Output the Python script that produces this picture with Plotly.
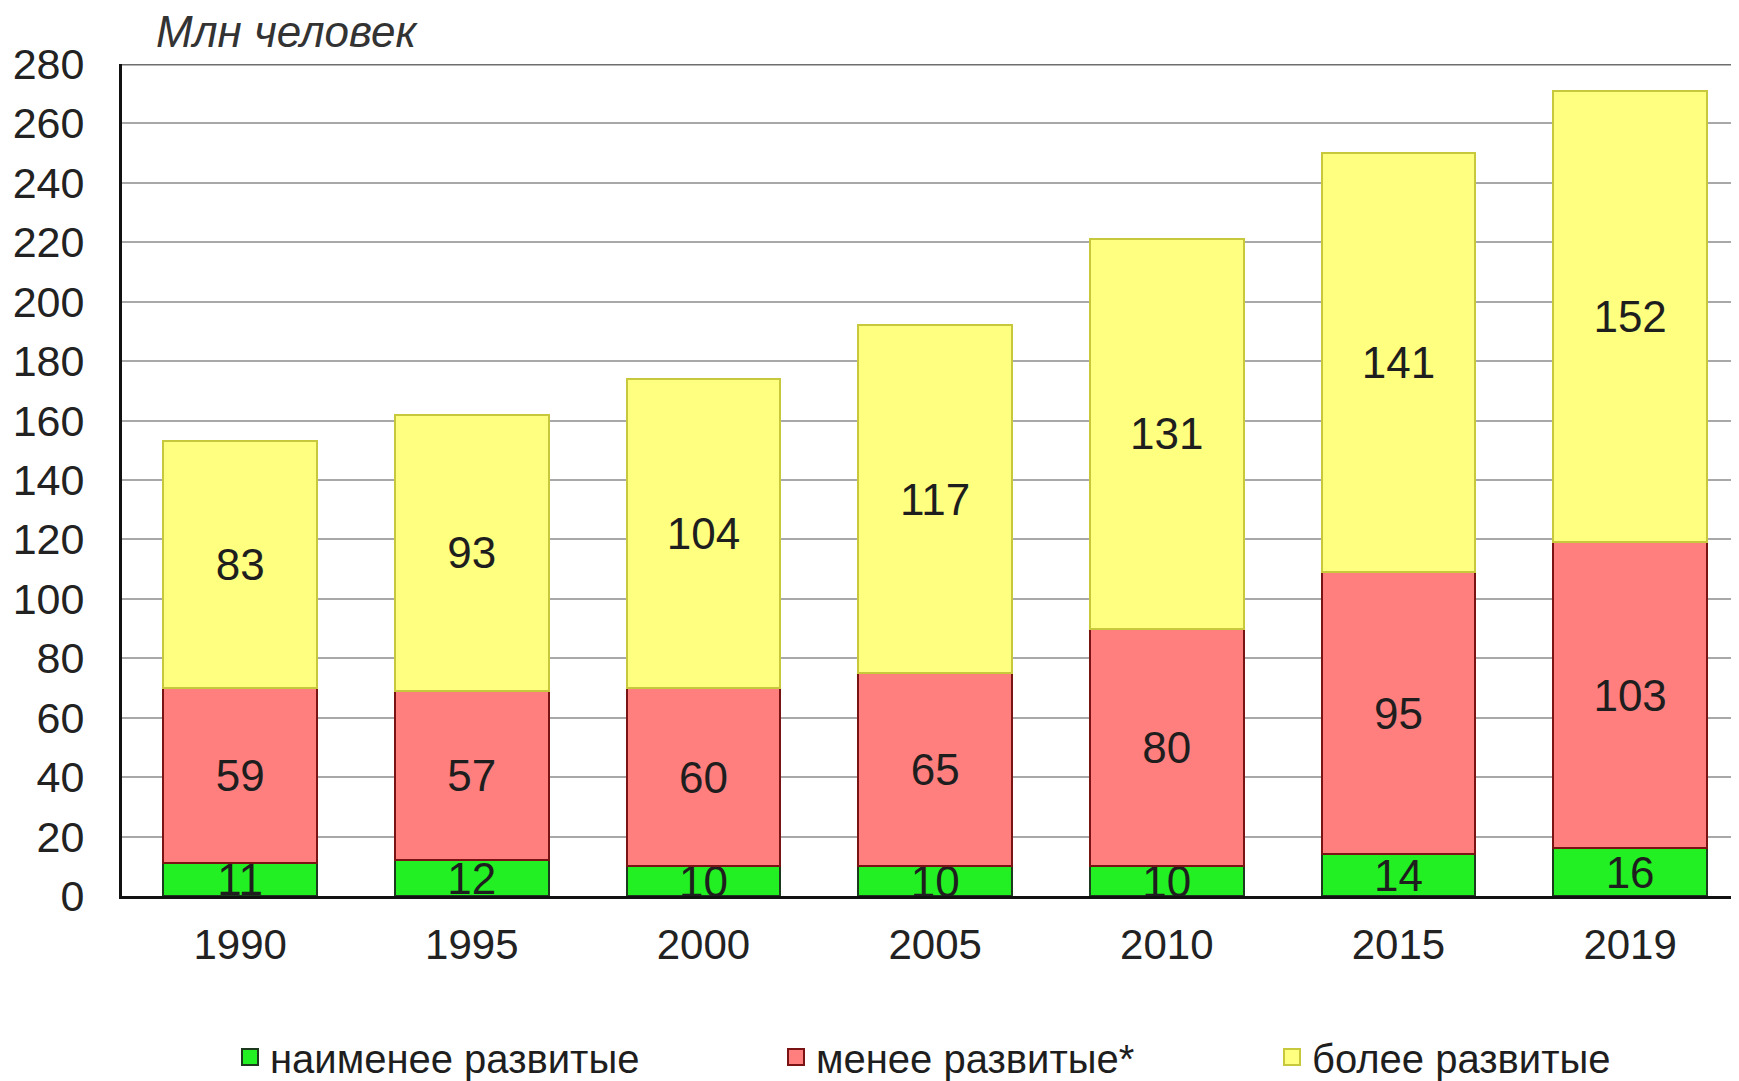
import plotly.graph_objects as go

years = ["1990", "1995", "2000", "2005", "2010", "2015", "2019"]
least_developed = [11, 12, 10, 10, 10, 14, 16]
less_developed = [59, 57, 60, 65, 80, 95, 103]
more_developed = [83, 93, 104, 117, 131, 141, 152]
series_names = ["наименее развитые", "менее развитые*", "более развитые"]
y_ticks = list(range(0, 281, 20))

fills = ["#22F022", "#FF7F7F", "#FFFF80"]
edges = ["#1E3A1E", "#7A1414", "#C8C83C"]

# page body has an 8px margin: figure sits at (8, 8) in the page
OFF = 8
W, H = 1739 - OFF, 1081 - OFF
ML = 122 - OFF
MT = 64 - OFF
MB = H - (896 - OFF)
MR = 0
PW = W - ML - MR
PH = H - MT - MB
FONT = "Liberation Sans, Arial, sans-serif"


def px_x(page_x):
    return (page_x - OFF - ML) / PW


def px_y(page_y):
    return (H - MB - (page_y - OFF)) / PH


fig = go.Figure()
for vals, name, fc, ec in zip([least_developed, less_developed, more_developed], series_names, fills, edges):
    fig.add_trace(go.Bar(
        x=years, y=vals, name=name, showlegend=False,
        marker=dict(color=fc, line=dict(color=ec, width=2)),
        text=[str(v) for v in vals], textposition="inside", insidetextanchor="middle",
        textangle=0, constraintext="none", cliponaxis=True,
        textfont=dict(family=FONT, size=44, color="#1E1E1E"),
        hoverinfo="skip",
    ))

# legend proxies (one legend per entry, to match spacing)
legend_keys = ["legend", "legend2", "legend3"]
legend_px = [230, 776, 1272]
for name, fc, ec, lk in zip(series_names, fills, edges, legend_keys):
    fig.add_trace(go.Scatter(
        x=[None], y=[None], mode="markers", name=name, legend=lk, showlegend=True,
        marker=dict(symbol="square", size=16, color=fc, line=dict(color=ec, width=2)),
    ))

layout_legends = {}
for lk, px in zip(legend_keys, legend_px):
    layout_legends[lk] = dict(
        orientation="h", yanchor="middle", xanchor="left",
        x=px_x(px), y=px_y(1057),
        bgcolor="rgba(0,0,0,0)", borderwidth=0,
        font=dict(family=FONT, size=40, color="#1E1E1E"),
        itemsizing="trace",
    )

fig.update_layout(
    width=W, height=H,
    margin=dict(l=ML, r=MR, t=MT, b=MB, pad=0, autoexpand=False),
    paper_bgcolor="white", plot_bgcolor="white",
    barmode="stack", bargap=0.336,
    font=dict(family=FONT, color="#222222"),
    **layout_legends,
)

fig.update_xaxes(
    type="category", range=[-0.51, 6.47],
    showgrid=False, showline=True, linecolor="#111111", linewidth=3,
    ticks="", ticklabelstandoff=10,
    tickfont=dict(size=42, color="#222222", family=FONT),
    zeroline=False,
)
fig.update_yaxes(
    range=[0, 280], tickvals=y_ticks, ticktext=[str(t) for t in y_ticks],
    showgrid=True, gridcolor="#A8A8A8", gridwidth=2,
    showline=True, linecolor="#111111", linewidth=3,
    ticks="", ticklabelstandoff=26,
    tickfont=dict(size=43, color="#222222", family=FONT),
    zeroline=False,
)

# darker top frame line at the top of the value axis
fig.add_shape(type="line", xref="paper", yref="y", x0=0, x1=1, y0=280, y1=280,
              line=dict(color="#6E6E6E", width=3), layer="above")

fig.add_annotation(
    text="<i>Млн человек</i>", xref="paper", yref="paper",
    x=px_x(154), y=px_y(31), xanchor="left", yanchor="middle",
    showarrow=False,
    font=dict(family=FONT, size=44, color="#333333"),
)

fig.write_html("out.html")
